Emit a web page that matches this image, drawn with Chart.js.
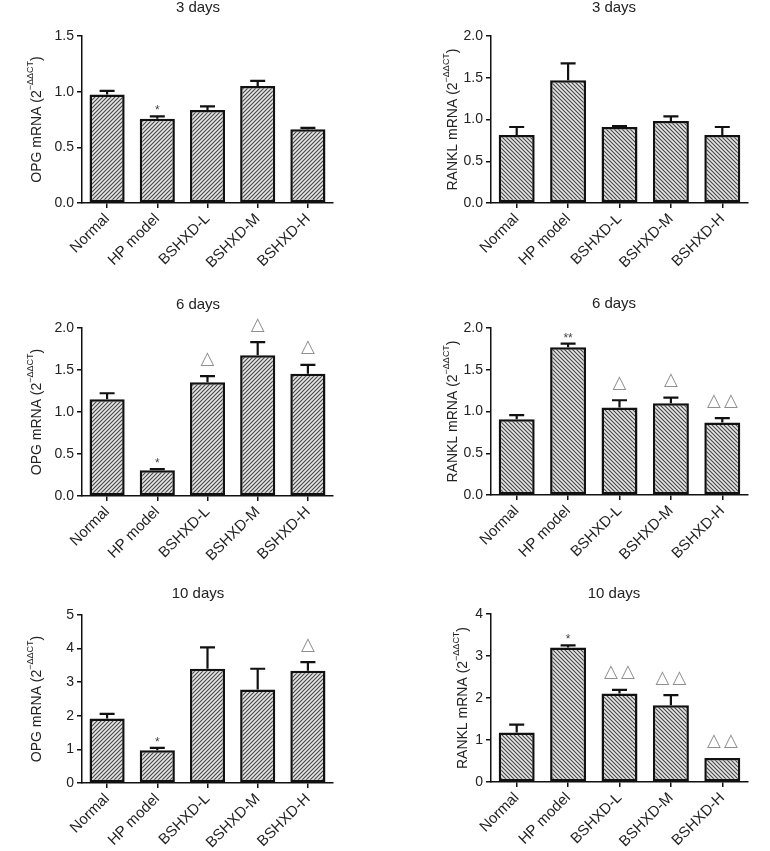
<!DOCTYPE html>
<html>
<head>
<meta charset="utf-8">
<script src="https://cdn.jsdelivr.net/npm/chart.js@4.4.1/dist/chart.umd.min.js"></script>
<style>
  html, body { margin: 0; padding: 0; background: #fff; }
  #wrap { position: relative; width: 770px; height: 851px; }
  canvas { position: absolute; }
</style>
</head>
<body>
<div id="wrap">
  <canvas id="c1" width="385" height="290" style="left:0;top:0"></canvas>
  <canvas id="c2" width="385" height="290" style="left:385px;top:0"></canvas>
  <canvas id="c3" width="385" height="280" style="left:0;top:290px"></canvas>
  <canvas id="c4" width="385" height="280" style="left:385px;top:290px"></canvas>
  <canvas id="c5" width="385" height="281" style="left:0;top:570px"></canvas>
  <canvas id="c6" width="385" height="281" style="left:385px;top:570px"></canvas>
</div>
<script>
// ─── DATA ──────────────────────────────────────────────────
const groups = ["Normal", "HP model", "BSHXD-L", "BSHXD-M", "BSHXD-H"];

const opg3       = [0.975, 0.757, 0.835, 1.050, 0.662];
const opg3Err    = [0.033, 0.021, 0.033, 0.047, 0.012];
const opg3Marks  = ["", "*", "", "", ""];

const rankl3      = [0.815, 1.471, 0.910, 0.982, 0.815];
const rankl3Err   = [0.095, 0.200, 0.012, 0.056, 0.095];
const rankl3Marks = ["", "", "", "", ""];

const opg6       = [1.151, 0.307, 1.355, 1.677, 1.454];
const opg6Err    = [0.072, 0.012, 0.071, 0.156, 0.108];
const opg6Marks  = ["", "*", "Δ", "Δ", "Δ"];

const rankl6      = [0.908, 1.769, 1.048, 1.100, 0.869];
const rankl6Err   = [0.048, 0.044, 0.087, 0.067, 0.051];
const rankl6Marks = ["", "**", "Δ", "Δ", "ΔΔ"];

const opg10      = [1.918, 0.974, 3.400, 2.783, 3.340];
const opg10Err   = [0.140, 0.070, 0.636, 0.617, 0.260];
const opg10Marks = ["", "*", "", "", "Δ"];

const rankl10      = [1.177, 3.205, 2.107, 1.829, 0.573];
const rankl10Err   = [0.191, 0.047, 0.088, 0.239, 0.000];
const rankl10Marks = ["", "*", "ΔΔ", "ΔΔ", "ΔΔ"];

const FONT = '"Liberation Sans", Arial, Helvetica, sans-serif';

// ─── PANELS ────────────────────────────────────────────────
const panels = [
    { id: "c1", title: "3 days",  gene: "OPG",   values: opg3,    errors: opg3Err,    marks: opg3Marks,
      yMax: 1.5, yStep: 0.5, decimals: 1, dir: "/",  area: { left: 82,  right: 333, top: 36, bottom: 203 }, titleX: 198, titleY: 8,  labelX: 37 },
    { id: "c2", title: "3 days",  gene: "RANKL", values: rankl3,  errors: rankl3Err,  marks: rankl3Marks,
      yMax: 2.0, yStep: 0.5, decimals: 1, dir: "\\", area: { left: 106, right: 363, top: 36, bottom: 203 }, titleX: 229, titleY: 8,  labelX: 68 },
    { id: "c3", title: "6 days",  gene: "OPG",   values: opg6,    errors: opg6Err,    marks: opg6Marks,
      yMax: 2.0, yStep: 0.5, decimals: 1, dir: "/",  area: { left: 82,  right: 333, top: 38, bottom: 206 }, titleX: 198, titleY: 15, labelX: 37 },
    { id: "c4", title: "6 days",  gene: "RANKL", values: rankl6,  errors: rankl6Err,  marks: rankl6Marks,
      yMax: 2.0, yStep: 0.5, decimals: 1, dir: "\\", area: { left: 106, right: 363, top: 38, bottom: 205 }, titleX: 229, titleY: 14, labelX: 68 },
    { id: "c5", title: "10 days", gene: "OPG",   values: opg10,   errors: opg10Err,   marks: opg10Marks,
      yMax: 5,   yStep: 1,   decimals: 0, dir: "/",  area: { left: 82,  right: 333, top: 45, bottom: 213 }, titleX: 198, titleY: 24, labelX: 37 },
    { id: "c6", title: "10 days", gene: "RANKL", values: rankl10, errors: rankl10Err, marks: rankl10Marks,
      yMax: 4,   yStep: 1,   decimals: 0, dir: "\\", area: { left: 106, right: 363, top: 44, bottom: 212 }, titleX: 229, titleY: 24, labelX: 78 },
];

// ─── HELPERS ───────────────────────────────────────────────
function hatch(dir) {
    const c = document.createElement("canvas");
    c.width = c.height = 4;
    const g = c.getContext("2d");
    g.fillStyle = "#e6e6e6";
    g.fillRect(0, 0, 4, 4);
    g.strokeStyle = "#484848";
    g.lineWidth = 1.15;
    g.beginPath();
    if (dir === "/") {
        g.moveTo(-1, 5); g.lineTo(5, -1);
        g.moveTo(-1, 1); g.lineTo(1, -1);
        g.moveTo(3, 5);  g.lineTo(5, 3);
    } else {
        g.moveTo(-1, -1); g.lineTo(5, 5);
        g.moveTo(3, -1);  g.lineTo(5, 1);
        g.moveTo(-1, 3);  g.lineTo(1, 5);
    }
    g.stroke();
    return g.createPattern(c, "repeat");
}

function panelPlugin(p) {
    return {
        id: "panelDecor",
        afterDatasetsDraw(chart) {
            const ctx = chart.ctx;
            const y = chart.scales.y;
            const meta = chart.getDatasetMeta(0);
            ctx.save();

            // error bars (upper only)
            ctx.strokeStyle = "#111";
            ctx.lineWidth = 2.2;
            meta.data.forEach((bar, i) => {
                if (!p.errors[i]) return;
                const yBar = y.getPixelForValue(p.values[i]);
                const yTop = y.getPixelForValue(p.values[i] + p.errors[i]);
                ctx.beginPath();
                ctx.moveTo(bar.x, yBar);
                ctx.lineTo(bar.x, yTop);
                ctx.moveTo(bar.x - 7.5, yTop);
                ctx.lineTo(bar.x + 7.5, yTop);
                ctx.stroke();
            });

            // significance marks
            meta.data.forEach((bar, i) => {
                const m = p.marks[i];
                if (!m) return;
                const yTop = y.getPixelForValue(p.values[i] + p.errors[i]);
                if (m[0] === "*") {
                    ctx.font = "12px " + FONT;
                    ctx.fillStyle = "#444";
                    ctx.textAlign = "center";
                    ctx.textBaseline = "alphabetic";
                    ctx.fillText(m, bar.x, yTop - 2);
                } else {
                    ctx.font = '18px "DejaVu Sans", sans-serif';
                    ctx.fillStyle = "#8f8f8f";
                    ctx.textAlign = "center";
                    ctx.textBaseline = "middle";
                    for (let k = 0; k < m.length; k++) {
                        const dx = (k - (m.length - 1) / 2) * 17;
                        ctx.fillText("△", bar.x + dx, yTop - 17);
                    }
                }
            });

            // title
            ctx.font = "15px " + FONT;
            ctx.fillStyle = "#222";
            ctx.textAlign = "center";
            ctx.textBaseline = "middle";
            ctx.fillText(p.title, p.titleX, p.titleY);

            // y axis title with superscript
            const parts = [
                { t: p.gene + " mRNA (2", f: "14px " + FONT, dy: 0 },
                { t: "−ΔΔCT",            f: "9px " + FONT,  dy: -6 },
                { t: ")",                f: "14px " + FONT, dy: 0 },
            ];
            let total = 0;
            parts.forEach(pt => { ctx.font = pt.f; pt.w = ctx.measureText(pt.t).width; total += pt.w; });
            ctx.translate(p.labelX, (chart.chartArea.top + chart.chartArea.bottom) / 2);
            ctx.rotate(-Math.PI / 2);
            ctx.textAlign = "left";
            ctx.textBaseline = "middle";
            let xx = -total / 2;
            parts.forEach(pt => {
                ctx.font = pt.f;
                ctx.fillText(pt.t, xx, pt.dy);
                xx += pt.w;
            });
            ctx.restore();
        },
    };
}

// ─── CHARTS ────────────────────────────────────────────────
panels.forEach(p => {
    const canvas = document.getElementById(p.id);
    const W = canvas.width, H = canvas.height;
    new Chart(canvas, {
        type: "bar",
        data: {
            labels: groups,
            datasets: [{
                data: p.values,
                backgroundColor: hatch(p.dir),
                borderColor: "#111",
                borderWidth: 2.5,
                borderSkipped: false,
                barPercentage: 0.7,
                categoryPercentage: 1.0,
            }],
        },
        options: {
            responsive: false,
            animation: false,
            layout: { padding: { left: 0, top: p.area.top, right: W - p.area.right, bottom: 0 } },
            plugins: {
                legend: { display: false },
                title: { display: false },
                tooltip: { enabled: false },
            },
            scales: {
                x: {
                    offset: true,
                    grid: { display: true, drawOnChartArea: false, offset: false, tickLength: 5, color: "#111", lineWidth: 1.5 },
                    border: { display: true, color: "#111", width: 1.5 },
                    ticks: {
                        autoSkip: false, maxRotation: 45, minRotation: 45, padding: 2,
                        color: "#222", font: { family: FONT, size: 15 },
                    },
                    afterFit(scale) { scale.height = H - p.area.bottom; },
                },
                y: {
                    min: 0,
                    max: p.yMax,
                    grid: { display: true, drawOnChartArea: false, tickLength: 5, color: "#111", lineWidth: 1.5 },
                    border: { display: true, color: "#111", width: 1.5 },
                    ticks: {
                        stepSize: p.yStep, padding: 3,
                        color: "#222", font: { family: FONT, size: 14 },
                        callback: v => Number(v).toFixed(p.decimals),
                    },
                    afterFit(scale) { scale.width = p.area.left; },
                },
            },
        },
        plugins: [panelPlugin(p)],
    });
});
</script>
</body>
</html>
